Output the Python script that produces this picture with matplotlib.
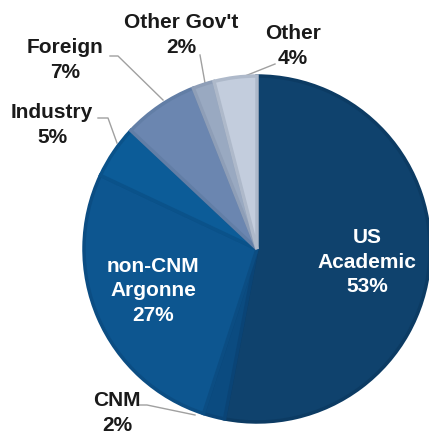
import numpy as np
import matplotlib.pyplot as plt

plt.rcParams['font.family'] = ['Liberation Sans', 'DejaVu Sans']

labels = ["US Academic", "CNM", "non-CNM Argonne", "Industry", "Foreign", "Other Gov't", "Other"]
shares = [53, 2, 27, 5, 7, 2, 4]
colors = ["#0f426d", "#0b4b80", "#0d5690", "#0c5c98", "#6b86b0", "#99a9c1", "#c3cddd"]
edges = ["#0c3b63", "#0a4476", "#0b4d83", "#0a528a", "#627ea6", "#8e9eb7", "#aeb9ca"]

# layout: pie centre / radius in pixels of the 429x438 figure
CX, CY, R = 257, 249, 173
W, H = 429, 438


def px(x, y):
    # pixel (from top-left) -> data coordinates of the unit pie
    return (x - CX) / R, (CY - y) / R


fig = plt.figure(figsize=(W / 100, H / 100), dpi=100)
ax = fig.add_axes([0, 0, 1, 1])
wedges, _ = ax.pie(shares, colors=colors, startangle=90, counterclock=False,
                   radius=1, wedgeprops=dict(linewidth=2.5))
for w, ec in zip(wedges, edges):
    w.set_edgecolor(ec)
    w.set_joinstyle('miter')

ax.set_xlim(-CX / R, (W - CX) / R)
ax.set_ylim(-(H - CY) / R, CY / R)
ax.set_aspect('equal')
ax.axis('off')

FS = 15
LS = 1.38

# inside labels (white)
inside = {"US Academic": ("US\nAcademic\n53%", 367, 262),
          "non-CNM Argonne": ("non-CNM\nArgonne\n27%", 153, 291)}
for name, (txt, x, y) in inside.items():
    ax.text(*px(x, y), txt, ha='center', va='center', color='white',
            fontsize=FS, fontweight='bold', linespacing=LS)

# outside labels with leader lines: text centre, elbow, wedge point (px)
outside = {
    "CNM": ("CNM\n2%", 117, 413, (147, 405), (195, 415), -8),
    "Industry": ("Industry\n5%", 52, 125, (108, 118), (117, 143), -10),
    "Foreign": ("Foreign\n7%", 65, 60, (118, 56), (163, 100), -8),
    "Other Gov't": ("Other Gov't\n2%", 181, 35, (200, 55), (205, 83), 0),
    "Other": ("Other\n4%", 293, 46, (275, 64), (235, 80), 0),
}
for name, (txt, x, y, elbow, tip, stub) in outside.items():
    tx, ty = px(*tip)
    ex, ey = px(*elbow)
    ax.text(*px(x, y), txt, ha='center', va='center', color='#1a1a1a',
            fontsize=FS, fontweight='bold', linespacing=LS)
    ax.plot([ex + stub / R, ex, tx], [ey, ey, ty], color='#a0a0a0', lw=1, zorder=0)

fig.savefig("out.png", dpi=100)
